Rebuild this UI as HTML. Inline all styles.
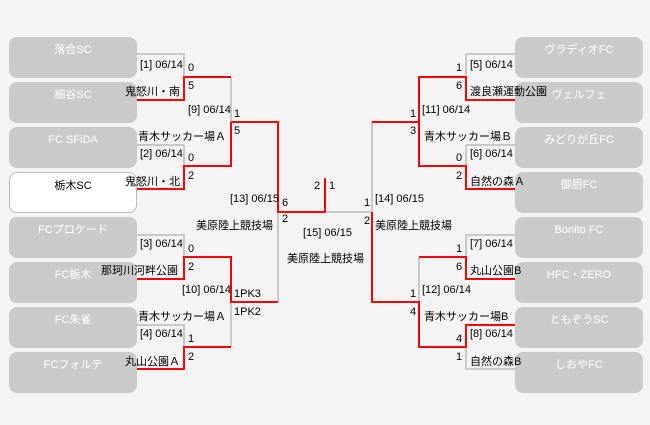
<!DOCTYPE html>
<html><head><meta charset="utf-8"><style>
body{margin:0;background:#f4f3f6;width:650px;height:425px;overflow:hidden;position:relative;font-family:"Liberation Sans","Noto Sans CJK JP",sans-serif;}
.b{position:absolute;width:128px;height:41px;background:#cacbc8;border-radius:8px;color:#fff;font-size:11px;text-align:center;line-height:26px;}
.w{background:#fff;border:1px solid #bbb;width:126px;height:39px;color:#000;}
.t{position:absolute;font-size:11px;line-height:12px;color:#000;white-space:nowrap;}
.r{text-align:right;}
svg{position:absolute;left:0;top:0;}
</style></head><body>
<div class="b" style="left:9px;top:37px">落合SC</div>
<div class="b" style="left:9px;top:82px">細谷SC</div>
<div class="b" style="left:9px;top:127px">FC SFiDA</div>
<div class="b w" style="left:9px;top:172px">栃木SC</div>
<div class="b" style="left:9px;top:217px">FCプロケード</div>
<div class="b" style="left:9px;top:262px">FC栃木</div>
<div class="b" style="left:9px;top:307px">FC朱雀</div>
<div class="b" style="left:9px;top:352px">FCフォルテ</div>
<div class="b" style="left:515px;top:37px">ヴラディオFC</div>
<div class="b" style="left:515px;top:82px">ヴェルフェ</div>
<div class="b" style="left:515px;top:127px">みどりが丘FC</div>
<div class="b" style="left:515px;top:172px">御厨FC</div>
<div class="b" style="left:515px;top:217px">Bonito FC</div>
<div class="b" style="left:515px;top:262px">HFC・ZERO</div>
<div class="b" style="left:515px;top:307px">ともぞうSC</div>
<div class="b" style="left:515px;top:352px">しおやFC</div>
<svg width="650" height="425" fill="none" stroke-width="2">
<g stroke="#c8c8c8">
<path d="M137 54H184V77M184 145H137M184 145V166M231 77V122M137 235H184V257M231 302V347M137 325H184V347M278 212V302M325 212H372V122M466 54H515M466 54V77M466 145H515M466 145V166M419 77V122M466 235H515M466 235V257M419 257V302M466 347V369H515"/>
</g>
<g stroke="#f00">
<path d="M137 100H184V77H231M231 122V166H184V189H137M231 122H278V212H325V178M137 279H184V257H231V302H278M137 369H184V347H231M515 100H466V77H419V122M372 122H419M419 122V166H466V189H515M372 212V302H419V347H466V325H515M419 257H466V279H515"/>
</g>
</svg>
<div class="t" style="left:140px;top:59px">[1] 06/14</div>
<div class="t" style="left:188px;top:62px">0</div>
<div class="t" style="left:188px;top:80px">5</div>
<div class="t r" style="right:470px;top:86px">鬼怒川・南</div>
<div class="t" style="left:188px;top:104px">[9] 06/14</div>
<div class="t" style="left:234px;top:108px">1</div>
<div class="t" style="left:234px;top:125px">5</div>
<div class="t r" style="right:424px;top:131px">青木サッカー場Ａ</div>
<div class="t" style="left:140px;top:148px">[2] 06/14</div>
<div class="t" style="left:188px;top:152px">0</div>
<div class="t" style="left:188px;top:170px">2</div>
<div class="t r" style="right:470px;top:176px">鬼怒川・北</div>
<div class="t" style="left:230px;top:193px">[13] 06/15</div>
<div class="t" style="left:282px;top:197px">6</div>
<div class="t" style="left:282px;top:213px">2</div>
<div class="t" style="left:196px;top:220px">美原陸上競技場</div>
<div class="t" style="left:314px;top:180px">2</div>
<div class="t" style="left:329px;top:180px">1</div>
<div class="t" style="left:303px;top:227px">[15] 06/15</div>
<div class="t" style="left:287px;top:253px">美原陸上競技場</div>
<div class="t" style="left:140px;top:238px">[3] 06/14</div>
<div class="t" style="left:188px;top:243px">0</div>
<div class="t" style="left:188px;top:261px">2</div>
<div class="t r" style="right:472px;top:265px">那珂川河畔公園</div>
<div class="t" style="left:182px;top:284px">[10] 06/14</div>
<div class="t" style="left:234px;top:288px">1PK3</div>
<div class="t" style="left:234px;top:306px">1PK2</div>
<div class="t r" style="right:424px;top:311px">青木サッカー場Ａ</div>
<div class="t" style="left:140px;top:328px">[4] 06/14</div>
<div class="t" style="left:188px;top:333px">1</div>
<div class="t" style="left:188px;top:351px">2</div>
<div class="t r" style="right:470px;top:356px">丸山公園Ａ</div>
<div class="t" style="left:456px;top:62px">1</div>
<div class="t" style="left:470px;top:59px">[5] 06/14</div>
<div class="t" style="left:456px;top:80px">6</div>
<div class="t" style="left:470px;top:86px">渡良瀬運動公園</div>
<div class="t" style="left:422px;top:104px">[11] 06/14</div>
<div class="t" style="left:410px;top:108px">1</div>
<div class="t" style="left:410px;top:125px">3</div>
<div class="t" style="left:424px;top:131px">青木サッカー場Ｂ</div>
<div class="t" style="left:456px;top:152px">0</div>
<div class="t" style="left:470px;top:148px">[6] 06/14</div>
<div class="t" style="left:456px;top:170px">2</div>
<div class="t" style="left:470px;top:176px">自然の森Ａ</div>
<div class="t" style="left:375px;top:193px">[14] 06/15</div>
<div class="t" style="left:364px;top:197px">1</div>
<div class="t" style="left:364px;top:215px">2</div>
<div class="t" style="left:375px;top:220px">美原陸上競技場</div>
<div class="t" style="left:456px;top:243px">1</div>
<div class="t" style="left:470px;top:238px">[7] 06/14</div>
<div class="t" style="left:456px;top:261px">6</div>
<div class="t" style="left:470px;top:265px">丸山公園B</div>
<div class="t" style="left:422px;top:284px">[12] 06/14</div>
<div class="t" style="left:410px;top:288px">1</div>
<div class="t" style="left:410px;top:306px">4</div>
<div class="t" style="left:424px;top:311px">青木サッカー場B</div>
<div class="t" style="left:470px;top:328px">[8] 06/14</div>
<div class="t" style="left:456px;top:333px">4</div>
<div class="t" style="left:456px;top:351px">1</div>
<div class="t" style="left:470px;top:356px">自然の森B</div>
</body></html>
